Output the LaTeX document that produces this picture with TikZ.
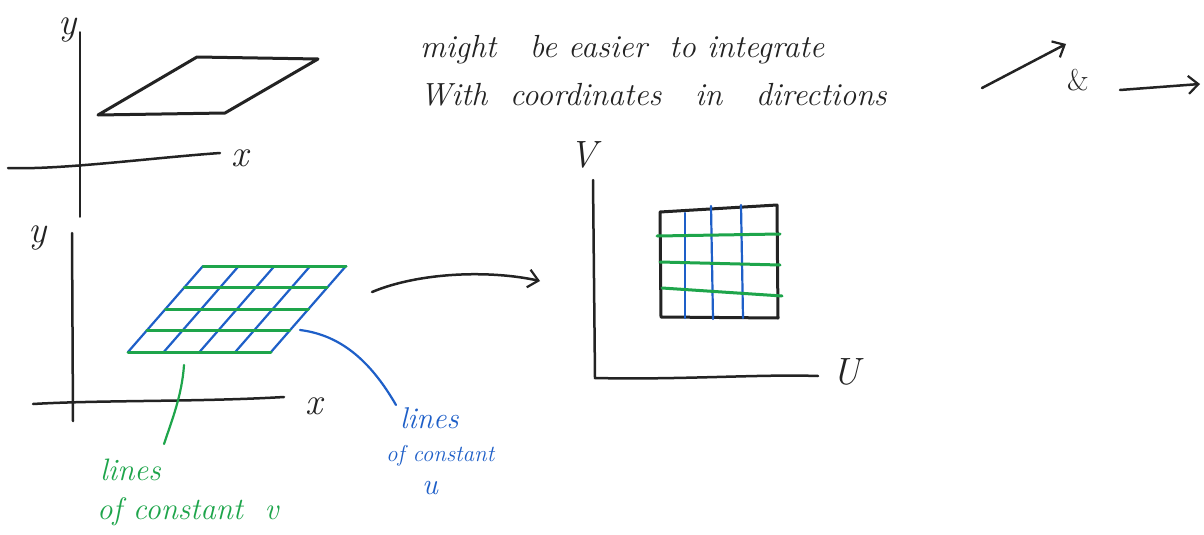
\documentclass[tikz,border=0pt]{standalone}
\usetikzlibrary{arrows.meta,calc}
\definecolor{pgreen}{RGB}{30,165,75}
\definecolor{pblue}{RGB}{30,95,200}
\definecolor{pink}{RGB}{35,35,35}
\begin{document}
\begin{tikzpicture}[x=1pt,y=-1pt,
  ink/.style={draw=pink,line width=3pt,line cap=round,line join=round},
  axis/.style={draw=pink,line width=2.5pt,line cap=round},
  thinaxis/.style={draw=pink,line width=1.5pt,line cap=round},
  gline/.style={draw=pgreen,line width=3pt,line cap=round},
  bline/.style={draw=pblue,line width=2.2pt,line cap=round},
  bglead/.style={line width=2.2pt,line cap=round},
  barb/.style={-{Straight Barb[length=10pt,width=18pt,line width=2.2pt]}},
  axlbl/.style={text=pink,font=\fontsize{38}{42}\selectfont\itshape,inner sep=0pt},
  txt/.style={text=pink,font=\fontsize{32}{36}\selectfont\itshape,inner sep=0pt,anchor=west},
  gtxt/.style={text=pgreen,font=\fontsize{31}{34}\selectfont\itshape,inner sep=0pt,anchor=west},
  btxt/.style={text=pblue,font=\fontsize{30}{34}\selectfont\itshape,inner sep=0pt,anchor=west}]
\fill[white] (0,0) rectangle (1204,535);
\useasboundingbox (0,0) rectangle (1204,535);

% ---------- top-left plot ----------
\coordinate (ay1t) at (80,32);
\coordinate (ay1b) at (80,217);
\coordinate (ax1l) at (8,168);
\coordinate (ax1r) at (220,153);
\draw[thinaxis] (ay1t) -- (ay1b);
\draw[axis] (ax1l) .. controls (60,170) and (150,158) .. (ax1r);
\node[axlbl] (y1) at (68,30) {y};
\node[axlbl] (x1) at (240,158) {x};
\draw[ink] (98,115) -- (197,57) -- (318,59) -- (225,113) -- cycle;

% ---------- top text ----------
\node[txt] (t1) at (420,50) {might \ \ be easier \ to integrate};
\node[txt] (t2) at (420,95) {With \ coordinates \ \ in \ \ directions};
\coordinate (d1s) at (982,88);
\coordinate (d1e) at (1066,44);
\draw[axis,barb] (d1s) -- (d1e);
\node[axlbl,font=\fontsize{30}{34}\selectfont] (amp) at (1078,80) {\&};
\coordinate (d2s) at (1120,90);
\coordinate (d2e) at (1200,84);
\draw[axis,barb] (d2s) -- (d2e);

% ---------- bottom-left plot ----------
\coordinate (ay2t) at (72,233);
\coordinate (ay2b) at (73,421);
\coordinate (ax2l) at (33,404);
\coordinate (ax2r) at (284,397);
\draw[axis] (ay2t) -- (ay2b);
\draw[axis] (ax2l) .. controls (100,400) and (200,402) .. (ax2r);
\node[axlbl] (y2) at (38,238) {y};
\node[axlbl] (x2) at (314,406) {x};

\coordinate (P00) at (128,352);
\coordinate (P10) at (271,352);
\coordinate (P01) at (203,266);
\coordinate (P11) at (346,266);
\foreach \t in {0,0.25,0.5,0.75,1}{
  \draw[bline] ($(P00)!\t!(P10)$) -- ($(P01)!\t!(P11)$);
}
\foreach \t in {0,0.25,0.5,0.75,1}{
  \draw[gline] ($(P00)!\t!(P01)$) -- ($(P10)!\t!(P11)$);
}

% leaders and labels
\coordinate (gls) at (184,365);
\coordinate (gle) at (164,444);
\draw[bglead,draw=pgreen] (gls) .. controls (182,395) and (172,420) .. (gle);
\node[gtxt] (gl1) at (100,470) {lines};
\node[gtxt] (gl2) at (97,512) {of constant \ v};

\coordinate (bls) at (300,330);
\coordinate (ble) at (396,405);
\draw[bglead,draw=pblue] (bls) .. controls (340,335) and (370,360) .. (ble);
\node[btxt] (bl1) at (400,418) {lines};
\node[btxt,font=\fontsize{23}{26}\selectfont\itshape] (bl2) at (386,456) {of constant};
\node[btxt] (bl3) at (422,488) {u};

% big arrow
\coordinate (ars) at (372,292);
\coordinate (are) at (540,281);
\draw[axis,barb] (ars) .. controls (420,272) and (490,270) .. (are);

% ---------- right plot ----------
\coordinate (ay3t) at (593,180);
\coordinate (ay3b) at (595,378);
\coordinate (ax3r) at (818,376);
\draw[axis] (ay3t) -- (ay3b) .. controls (680,380) and (760,374) .. (ax3r);
\node[axlbl] (v3) at (583,155) {V};
\node[axlbl] (u3) at (846,372) {U};

\draw[ink] (660,212) -- (777,205) -- (778,318) -- (661,317) -- cycle;
\draw[bline] (685,213) -- (685,318);
\draw[bline] (711,206) -- (713,319);
\draw[bline] (741,205) -- (743,318);
\draw[gline] (657,236) -- (780,234);
\draw[gline] (660,262) -- (780,265);
\draw[gline] (662,288) -- (782,296);
\end{tikzpicture}
\end{document}
